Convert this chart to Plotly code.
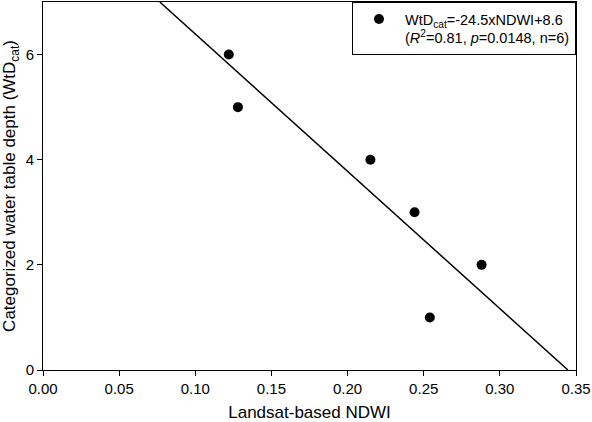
import plotly.graph_objects as go

# NDWI vs categorized water table depth
ndwi = [0.122, 0.128, 0.215, 0.244, 0.288, 0.254]
wtd_cat = [6, 5, 4, 3, 2, 1]

# regression line end points as drawn in the figure
fit_x = [0.0767, 0.3447]
fit_y = [7.0, 0.0]

x_ticks = [0.00, 0.05, 0.10, 0.15, 0.20, 0.25, 0.30, 0.35]
y_ticks = [0, 2, 4, 6]

legend_label = ("WtD<sub>cat</sub>=-24.5xNDWI+8.6<br>"
                "(<i>R</i><sup>2</sup>=0.81, <i>p</i>=0.0148, n=6)")

fig = go.Figure()

fig.add_trace(go.Scatter(
    x=ndwi, y=wtd_cat,
    mode='markers',
    marker=dict(size=10, color='black'),
    name=legend_label
))

fig.add_trace(go.Scatter(
    x=fit_x, y=fit_y,
    mode='lines',
    line=dict(color='black', width=1.5),
    showlegend=False,
    hoverinfo='skip'
))

axis_style = dict(
    showgrid=False, zeroline=False,
    showline=True, linecolor='black', linewidth=1, mirror=True,
    ticks='outside', ticklen=5, tickwidth=1, tickcolor='black',
    tickfont=dict(size=15, color='black'),
)

fig.update_layout(
    width=592, height=422,
    margin=dict(l=43, r=15, t=1, b=51),
    paper_bgcolor='white', plot_bgcolor='white',
    font=dict(family='Arial, Liberation Sans, sans-serif', color='black'),
    xaxis=dict(range=[0, 0.35], tickvals=x_ticks, tickformat='.2f',
               title=dict(text='Landsat-based NDWI', font=dict(size=17), standoff=12),
               **axis_style),
    yaxis=dict(range=[0, 7], tickvals=y_ticks,
               title=dict(text='Categorized water table depth (WtD<sub>cat</sub>)',
                          font=dict(size=17), standoff=6),
               **axis_style),
    legend=dict(x=1, y=1, xanchor='right', yanchor='top',
                bordercolor='black', borderwidth=1, bgcolor='white',
                font=dict(size=14.5), valign='top', itemwidth=42),
    showlegend=True,
)

fig.write_html("out.html", config={'displayModeBar': False},
               post_script="document.body.style.margin='0';")
